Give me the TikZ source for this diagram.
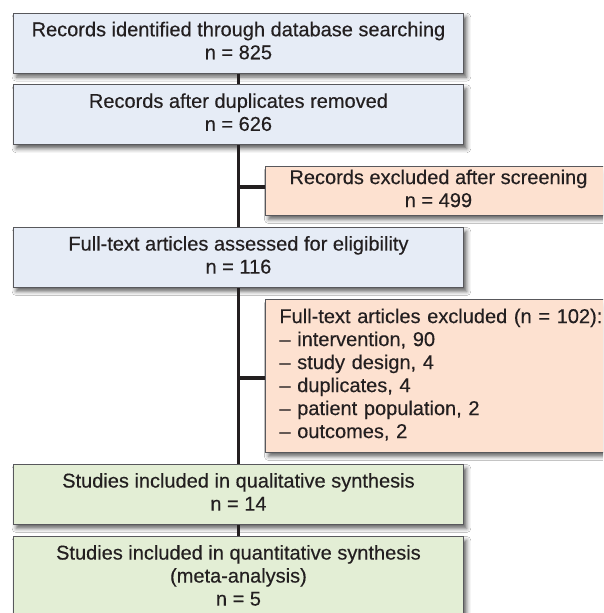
\documentclass[tikz,border=0pt]{standalone}
\usepackage{fontspec}
\setmainfont{Liberation Sans}
\newfontfamily\boxfont[FakeBold=0.35]{Liberation Sans}
\usetikzlibrary{shadows.blur}
\definecolor{bluefill}{RGB}{230,236,246}
\definecolor{orangefill}{RGB}{253,225,208}
\definecolor{greenfill}{RGB}{227,238,213}
\definecolor{ink}{RGB}{35,31,32}
\definecolor{edgegray}{RGB}{88,88,92}
\begin{document}
\begin{tikzpicture}[x=1pt,y=-1pt,
  box/.style={draw=edgegray, line width=0.9pt, inner sep=0pt, anchor=north west,
    text=ink, font=\boxfont\fontsize{20}{23}\selectfont, align=center,
    blur shadow={shadow xshift=3pt, shadow yshift=-4pt, shadow blur radius=4pt, shadow opacity=60}},
  bluebox/.style={box, fill=bluefill, minimum width=450.6pt},
  greenbox/.style={box, fill=greenfill, minimum width=450.6pt},
  orangebox/.style={box, fill=orangefill, minimum width=346pt},
  link/.style={draw=ink, line width=3.3pt}]
\path[use as bounding box, clip] (0,0) rectangle (603,613);
\fill[white] (0,0) rectangle (603,613);

\node[bluebox, minimum height=60pt] (b1) at (12.7,12.7)
  {\strut Records identified through database searching\\\strut n = 825};
\node[bluebox, minimum height=60pt] (b2) at (12.7,84.3)
  {\strut Records after duplicates removed\\\strut n = 626};
\node[orangebox, minimum height=49pt] (o1) at (265,166)
  {\strut Records excluded after screening\\\strut n = 499};
\node[bluebox, minimum height=60pt] (b3) at (12.7,227)
  {\strut Full-text articles assessed for eligibility\\\strut n = 116};
\node[orangebox, minimum height=153pt, align=left, text width=330pt, inner xsep=14pt] (o2) at (265,299)
  {\strut Full-text articles excluded (n = 102):\\\strut – intervention, 90\\\strut – study design, 4\\\strut – duplicates, 4\\\strut – patient population, 2\\\strut – outcomes, 2};
\node[greenbox, minimum height=60pt] (g1) at (12.7,464)
  {\strut Studies included in qualitative synthesis\\\strut n = 14};
\node[greenbox, minimum height=83pt] (g2) at (12.7,536)
  {\strut Studies included in quantitative synthesis\\\strut (meta-analysis)\\\strut n = 5};

\coordinate (j1) at (b2.south |- 0,187);
\coordinate (j2) at (b3.south |- 0,378);
\draw[link] (b1.south) -- (b2.north);
\draw[link] (b2.south) -- (b3.north);
\draw[link] (b3.south) -- (g1.north);
\draw[link] (g1.south) -- (g2.north);
\draw[link] (j1) -- (j1 -| o1.west);
\draw[link] (j2) -- (j2 -| o2.west);
\end{tikzpicture}
\end{document}
